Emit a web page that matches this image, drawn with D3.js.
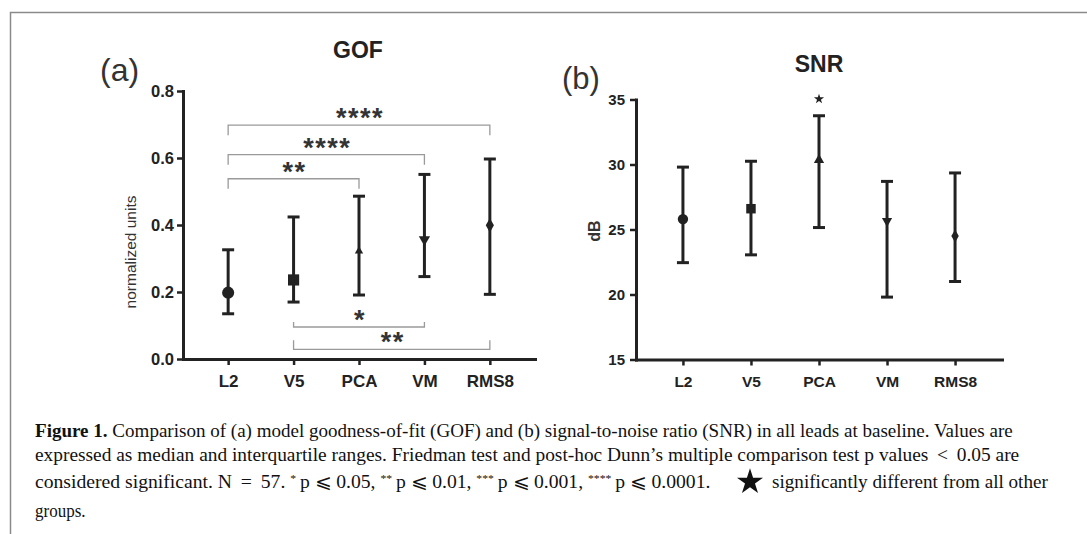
<!DOCTYPE html>
<html>
<head>
<meta charset="utf-8">
<script src="https://cdn.jsdelivr.net/npm/d3@7"></script>
<style>
body { margin: 0; background: #fff; }
svg { display: block; }
</style>
</head>
<body>
<svg id="fig" width="1087" height="534"></svg>
<script>
// groups shared by both panels
var groups = ["L2", "V5", "PCA", "VM", "RMS8"];

// (a) GOF, median + interquartile range
var gofMedian = [0.198, 0.236, 0.322, 0.357, 0.399];
var gofLow = [0.135, 0.170, 0.191, 0.246, 0.193];
var gofHigh = [0.326, 0.424, 0.486, 0.551, 0.597];
var gofTicks = [0, 0.2, 0.4, 0.6, 0.8];

// Dunn post-hoc brackets for GOF
var sigFrom = ["L2", "L2", "L2", "V5", "V5"];
var sigTo = ["RMS8", "VM", "PCA", "VM", "RMS8"];
var sigLevel = [0.698, 0.61, 0.538, 0.0955, 0.029];
var sigStars = ["****", "****", "**", "*", "**"];
var sigBelow = [false, false, false, true, true];

// (b) SNR in dB
var snrMedian = [25.8, 26.6, 30.35, 25.65, 24.5];
var snrLow = [22.45, 23.05, 25.15, 19.8, 21.0];
var snrHigh = [29.8, 30.25, 33.75, 28.7, 29.35];
var snrTicks = [15, 20, 25, 30, 35];
var snrDifferent = ["PCA"];

var svg = d3.select("#fig");
var ink = "#222";

// frame around the figure
svg.append("path")
    .attr("d", "M10.5,534V12.5H1087")
    .attr("fill", "none")
    .attr("stroke", "#8a8a8a")
    .attr("stroke-width", 1.5);

var shapes = [d3.symbolCircle, d3.symbolSquare, d3.symbolTriangle, d3.symbolTriangle, d3.symbolDiamond];
var turn = [0, 0, 0, 180, 0];

function panel(o) {
    var x = d3.scalePoint().domain(groups).range([o.left, o.right]).padding(0.69);
    var y = d3.scaleLinear().domain([o.ticks[0], o.ticks[o.ticks.length - 1]]).range([o.bottom, o.top]);
    var g = svg.append("g");

    var ya = g.append("g")
        .attr("transform", "translate(" + o.left + ",0)")
        .call(d3.axisLeft(y).tickValues(o.ticks).tickSize(6).tickSizeOuter(0)
            .tickPadding(o.yPad).tickFormat(o.fmt));
    var xa = g.append("g")
        .attr("transform", "translate(0," + o.bottom + ")")
        .call(d3.axisBottom(x).tickSize(6).tickSizeOuter(0).tickPadding(10));

    [ya, xa].forEach(function(a) {
        a.select(".domain").attr("stroke", ink).attr("stroke-width", 3).attr("stroke-linecap", "square");
        a.selectAll(".tick line").attr("stroke", ink).attr("stroke-width", 2.5);
        a.selectAll("text")
            .attr("fill", ink)
            .attr("font-family", "Liberation Sans, Arial, sans-serif")
            .attr("font-weight", "bold");
    });
    ya.selectAll("text").attr("font-size", o.yFont + "px");
    xa.selectAll("text").attr("font-size", o.xFont + "px");

    // error bars
    groups.forEach(function(c, i) {
        var cx = x(c);
        g.append("line")
            .attr("x1", cx).attr("x2", cx)
            .attr("y1", y(o.low[i])).attr("y2", y(o.high[i]))
            .attr("stroke", ink).attr("stroke-width", 3);
        [o.low[i], o.high[i]].forEach(function(v) {
            g.append("line")
                .attr("x1", cx - 6).attr("x2", cx + 6)
                .attr("y1", y(v)).attr("y2", y(v))
                .attr("stroke", ink).attr("stroke-width", 3);
        });
        g.append("path")
            .attr("d", d3.symbol().type(shapes[i]).size(o.sizes[i])())
            .attr("transform", "translate(" + cx + "," + y(o.median[i]) + ") rotate(" + turn[i] + ")")
            .attr("fill", ink);
    });

    g.append("text")
        .attr("x", o.titleX).attr("y", o.titleY)
        .attr("text-anchor", "middle")
        .attr("font-family", "Liberation Sans, Arial, sans-serif")
        .attr("font-weight", "bold")
        .attr("font-size", "23px")
        .attr("fill", ink)
        .text(o.title);

    g.append("text")
        .attr("x", o.tagX).attr("y", o.tagY)
        .attr("font-family", "Liberation Sans, Arial, sans-serif")
        .attr("font-size", o.tagSize + "px")
        .attr("fill", "#333")
        .text(o.tag);

    g.append("text")
        .attr("transform", "translate(" + o.labX + "," + o.labY + ") rotate(-90)")
        .attr("text-anchor", "middle")
        .attr("dy", "0.35em")
        .attr("font-family", "Liberation Sans, Arial, sans-serif")
        .attr("font-size", o.labSize + "px")
        .attr("font-weight", o.labWeight)
        .attr("fill", "#333")
        .text(o.label);

    return {x: x, y: y, g: g};
}

var a = panel({
    left: 183, right: 535, top: 91, bottom: 359,
    ticks: gofTicks, fmt: d3.format(".1f"), yPad: 3, yFont: 16.5, xFont: 17,
    median: gofMedian, low: gofLow, high: gofHigh,
    sizes: [115, 125, 30, 55, 58],
    title: "GOF", titleX: 358, titleY: 58,
    tag: "(a)", tagX: 100, tagY: 81, tagSize: 32,
    label: "normalized units", labX: 131, labY: 252, labSize: 15.5, labWeight: "normal"
});

// significance brackets
sigFrom.forEach(function(f, i) {
    var x1 = a.x(f), x2 = a.x(sigTo[i]), yy = a.y(sigLevel[i]);
    var h = sigBelow[i] ? -(i == 3 ? 5 : 9) : 10;
    a.g.append("path")
        .attr("d", "M" + x1 + "," + (yy + h) + "V" + yy + "H" + x2 + "V" + (yy + h))
        .attr("fill", "none")
        .attr("stroke", "#9a9a9a")
        .attr("stroke-width", 1.3);
    a.g.append("text")
        .attr("x", (x1 + x2) / 2 + 1)
        .attr("y", yy + 2)
        .attr("text-anchor", "middle")
        .attr("font-family", "Liberation Sans, Arial, sans-serif")
        .attr("font-weight", "bold")
        .attr("font-size", "27px")
        .attr("letter-spacing", "1.5px")
        .attr("fill", "#333")
        .text(sigStars[i]);
});

var b = panel({
    left: 636, right: 1002, top: 99.5, bottom: 359.5,
    ticks: snrTicks, fmt: d3.format("d"), yPad: 5, yFont: 15, xFont: 15.5,
    median: snrMedian, low: snrLow, high: snrHigh,
    sizes: [85, 90, 46, 45, 48],
    title: "SNR", titleX: 819, titleY: 72,
    tag: "(b)", tagX: 562, tagY: 89, tagSize: 31,
    label: "dB", labX: 594, labY: 231, labSize: 16, labWeight: "bold"
});

snrDifferent.forEach(function(c) {
    b.g.append("path")
        .attr("d", d3.symbol().type(d3.symbolStar).size(32)())
        .attr("transform", "translate(" + b.x(c) + ",99)")
        .attr("fill", ink);
});

// caption, each line fitted to the width it has in the print
function captionLine(parts, x0, x1, yb) {
    var t = svg.append("text")
        .attr("y", yb)
        .attr("font-family", "Liberation Serif, Times New Roman, serif")
        .attr("font-size", "18.5px")
        .attr("fill", "#111");
    parts.forEach(function(p) {
        var s = t.append("tspan").text(p.t);
        if (p.bold) s.attr("font-weight", "bold");
        if (p.sup) s.attr("baseline-shift", "super").attr("font-size", "11px");
    });
    var w = t.node().getComputedTextLength();
    var k = x1 ? (x1 - x0) / w : 0.92;
    t.attr("transform", "translate(" + x0 + ",0) scale(" + k + ",1)");
}

captionLine([
    {t: "Figure 1.", bold: true},
    {t: " Comparison of (a) model goodness-of-fit (GOF) and (b) signal-to-noise ratio (SNR) in all leads at baseline. Values are"}
], 35, 1013, 437);
captionLine([
    {t: "expressed as median and interquartile ranges. Friedman test and post-hoc Dunn\u2019s multiple comparison test p values \u2009<\u2009 0.05 are"}
], 35, 1020, 461);
captionLine([
    {t: "considered significant. N \u2009=\u2009 57. "}, {t: "*", sup: true},
    {t: "\u2009p \u2A7D 0.05, "}, {t: "**", sup: true},
    {t: "\u2009p \u2A7D 0.01, "}, {t: "***", sup: true},
    {t: "\u2009p \u2A7D 0.001, "}, {t: "****", sup: true},
    {t: "\u2009p \u2A7D 0.0001."}
], 35, 713, 488);
svg.append("path")
    .attr("d", d3.symbol().type(d3.symbolStar).size(210)())
    .attr("transform", "translate(750,482)")
    .attr("fill", "#111");
captionLine([{t: "significantly different from all other"}], 772, 1048, 488);
captionLine([{t: "groups."}], 35, null, 517);
</script>
</body>
</html>
